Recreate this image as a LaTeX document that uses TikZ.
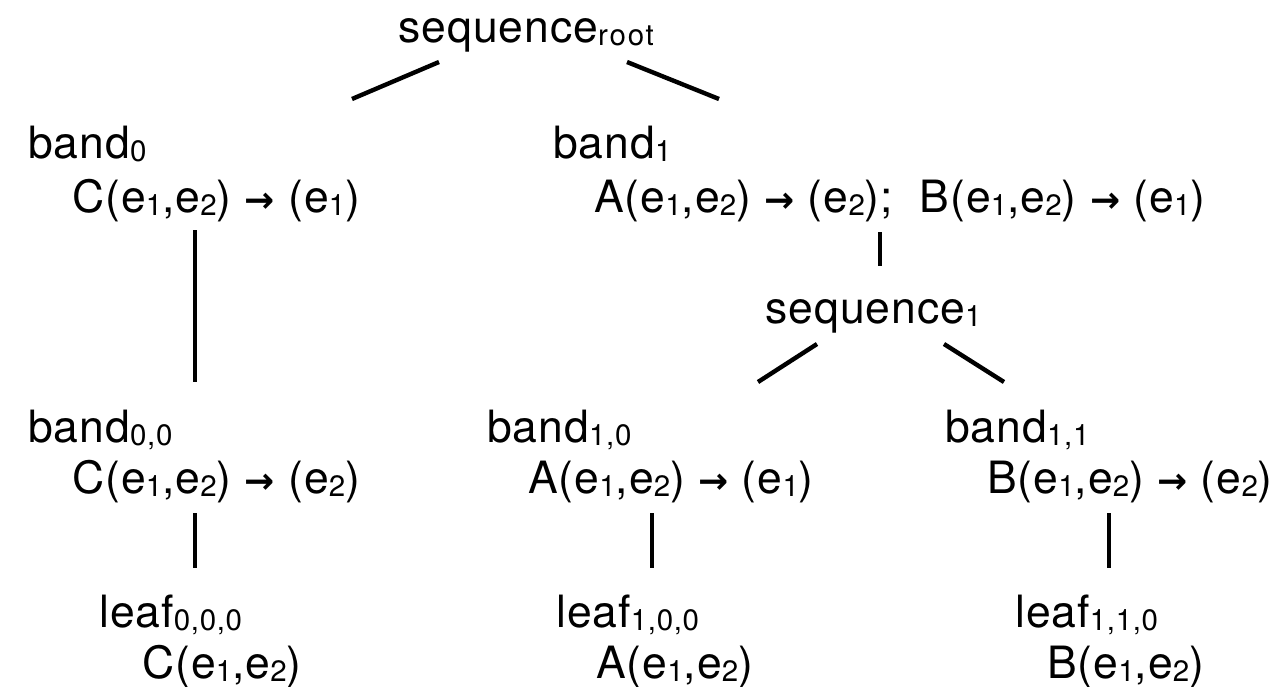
\documentclass[tikz,border=0pt]{standalone}
\usepackage{fontspec}
\setmainfont{TeX Gyre Heros}[LetterSpace=2.2]
\newfontfamily\arrowfont{DejaVu Sans Bold}
\newcommand\lo[1]{\raisebox{-3pt}{\fontsize{29.5}{30}\selectfont #1}}
\newcommand\ar{{\arrowfont\fontsize{36}{40}\selectfont →}}
\begin{document}
\begin{tikzpicture}[x=1pt,y=-1pt,
  lbl/.style={inner sep=0pt, anchor=base west, font=\fontsize{44.5}{50}\selectfont},
  edge/.style={line width=4.4pt, black}]
\useasboundingbox (0,0) rectangle (1286,686);
% nodes
\node[lbl] (sr) at (398,42) {sequence\lo{\addfontfeatures{LetterSpace=6}root}};
\node[lbl] (b0) at (28,158) {band\lo{0}};
\node[lbl] (b0c) at (72,212) {C(e\lo{1},e\lo{2}) \ar{} (e\lo{1})};
\node[lbl] (b1) at (553,158) {band\lo{1}};
\node[lbl] (b1c) at (594,212) {A(e\lo{1},e\lo{2}) \ar{} (e\lo{2});\ \ B(e\lo{1},e\lo{2}) \ar{} (e\lo{1})};
\node[lbl] (s1) at (765,323) {sequence\lo{1}};
\node[lbl] (b00) at (28,442) {band\lo{0,0}};
\node[lbl] (b00c) at (72,493) {C(e\lo{1},e\lo{2}) \ar{} (e\lo{2})};
\node[lbl] (b10) at (487,442) {band\lo{1,0}};
\node[lbl] (b10c) at (528,493) {A(e\lo{1},e\lo{2}) \ar{} (e\lo{1})};
\node[lbl] (b11) at (945,442) {band\lo{1,1}};
\node[lbl] (b11c) at (987,493) {B(e\lo{1},e\lo{2}) \ar{} (e\lo{2})};
\node[lbl] (l000) at (99,627) {leaf\lo{0,0,0}};
\node[lbl] (l000c) at (142,678) {C(e\lo{1},e\lo{2})};
\node[lbl] (l100) at (556,627) {leaf\lo{1,0,0}};
\node[lbl] (l100c) at (596,678) {A(e\lo{1},e\lo{2})};
\node[lbl] (l110) at (1015,627) {leaf\lo{1,1,0}};
\node[lbl] (l110c) at (1047,678) {B(e\lo{1},e\lo{2})};
% connectors
\draw[edge] ([shift={(41,20)}]sr.base west) -- ([shift={(324,-59)}]b0.base west);
\draw[edge] ([shift={(229,20)}]sr.base west) -- ([shift={(166,-59)}]b1.base west);
\draw[edge] ([shift={(123,18)}]b0c.base west) -- ([shift={(167,-60)}]b00.base west);
\draw[edge] ([shift={(286,20)}]b1c.base west) -- ([shift={(115,-57)}]s1.base west);
\draw[edge] ([shift={(52,21)}]s1.base west) -- ([shift={(271,-60)}]b10.base west);
\draw[edge] ([shift={(179,21)}]s1.base west) -- ([shift={(59,-60)}]b11.base west);
\draw[edge] ([shift={(123,20)}]b00c.base west) -- ([shift={(96,-59)}]l000.base west);
\draw[edge] ([shift={(124,20)}]b10c.base west) -- ([shift={(96,-59)}]l100.base west);
\draw[edge] ([shift={(122,20)}]b11c.base west) -- ([shift={(94,-59)}]l110.base west);
\end{tikzpicture}
\end{document}
